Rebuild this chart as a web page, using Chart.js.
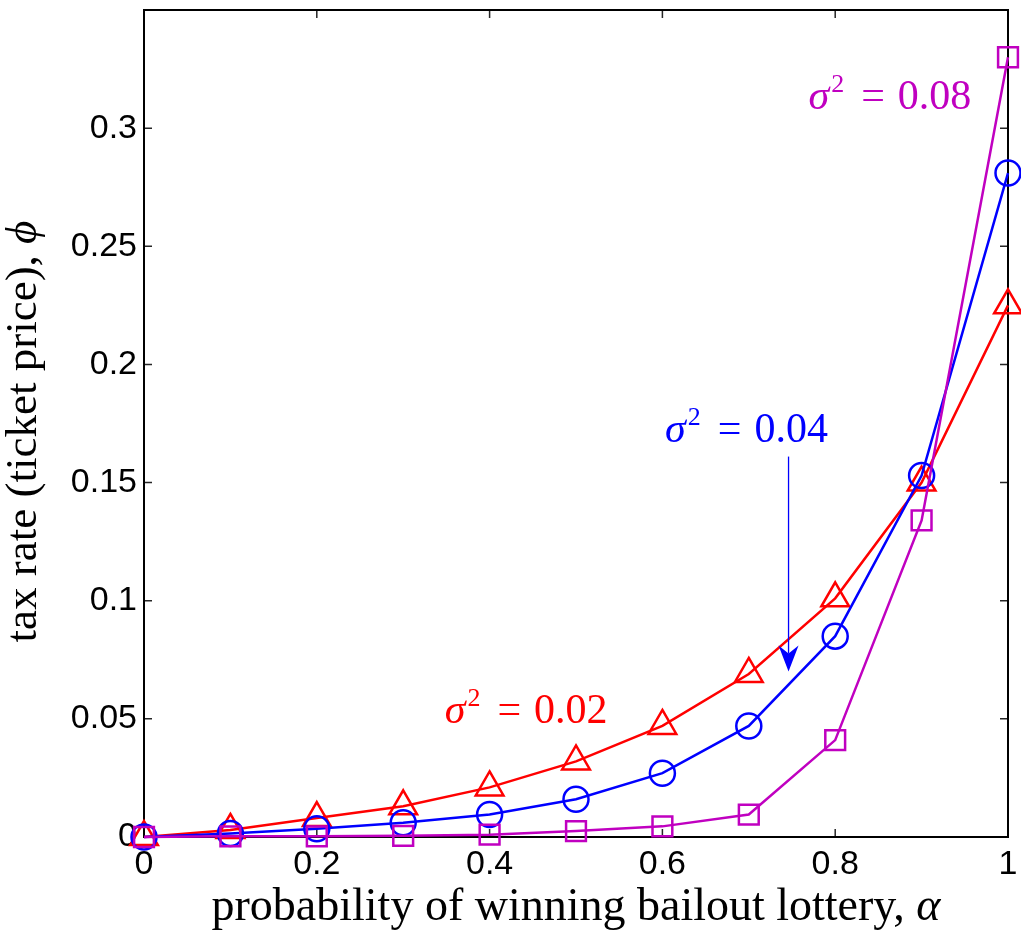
<!DOCTYPE html>
<html lang="en">
<head>
<meta charset="UTF-8" />
<title>Tax rate vs probability of winning bailout lottery</title>
<style>
  html, body { margin: 0; padding: 0; background: #fff; }
</style>
<script src="https://cdn.jsdelivr.net/npm/chart.js"></script>
</head>
<body>
<canvas id="chart" width="1021" height="933"></canvas>
<script>
// probability of winning bailout lottery, alpha
const alpha = [0, 0.1, 0.2, 0.3, 0.4, 0.5, 0.6, 0.7, 0.8, 0.9, 1];
// tax rate (ticket price) phi, one series per sigma^2
const phiSigma002 = [0, 0.003, 0.008, 0.013, 0.021, 0.032, 0.047, 0.069, 0.101, 0.150, 0.225];
const phiSigma004 = [0, 0.0015, 0.0035, 0.006, 0.0095, 0.016, 0.027, 0.047, 0.085, 0.153, 0.281];
const phiSigma008 = [0, 0.0003, 0.0003, 0.0005, 0.001, 0.0025, 0.0045, 0.0095, 0.041, 0.134, 0.330];

const xTicks = [0, 0.2, 0.4, 0.6, 0.8, 1];
const yTicks = [0, 0.05, 0.1, 0.15, 0.2, 0.25, 0.3];

const xTitle = ['probability of winning bailout lottery, ', 'α'];
const yTitle = ['tax rate (ticket price), ', 'ϕ'];

const RED = '#ff0000', BLUE = '#0000ff', MAGENTA = '#c000c0';
const SERIF = '"Liberation Serif", "DejaVu Serif", serif';

function series(values) {
    return alpha.map((a, i) => ({ x: a, y: values[i] }));
}

function lineSet(values, color, style, radius) {
    return {
        data: series(values),
        borderColor: color,
        borderWidth: 2.5,
        pointStyle: style,
        pointRadius: radius,
        pointHoverRadius: radius,
        pointBorderColor: color,
        pointBackgroundColor: 'rgba(0,0,0,0)',
        pointBorderWidth: 2.5,
        fill: false,
        tension: 0,
        clip: false
    };
}

// curve annotations, anchored in data coordinates (left edge, baseline)
const curveLabels = [
    { value: '0.02', color: RED, at: [0.348, 0.0484] },
    { value: '0.04', color: BLUE, at: [0.603, 0.167] },
    { value: '0.08', color: MAGENTA, at: [0.769, 0.308] }
];
const pointer = { x: 0.746, from: 0.161, to: 0.070, color: BLUE };

const frame = {
    id: 'frame',
    beforeDatasetsDraw(chart) {
        const { ctx, chartArea: a, scales: { x, y } } = chart;
        ctx.save();
        ctx.strokeStyle = '#262626';
        ctx.lineWidth = 1.5;
        ctx.beginPath();
        xTicks.forEach(v => {
            const px = x.getPixelForValue(v);
            ctx.moveTo(px, a.bottom); ctx.lineTo(px, a.bottom - 8);
            ctx.moveTo(px, a.top); ctx.lineTo(px, a.top + 8);
        });
        yTicks.forEach(v => {
            const py = y.getPixelForValue(v);
            ctx.moveTo(a.left, py); ctx.lineTo(a.left + 8, py);
            ctx.moveTo(a.right, py); ctx.lineTo(a.right - 8, py);
        });
        ctx.stroke();
        ctx.strokeStyle = '#000';
        ctx.lineWidth = 2;
        ctx.strokeRect(a.left, a.top, a.right - a.left, a.bottom - a.top);
        ctx.restore();
    }
};

// roman text followed by an italic symbol, centred on (0, baseline 0)
function drawTitle(ctx, parts, size) {
    ctx.font = size + 'px ' + SERIF;
    const w1 = ctx.measureText(parts[0]).width;
    ctx.font = 'italic ' + size + 'px ' + SERIF;
    const w2 = ctx.measureText(parts[1]).width;
    const start = -(w1 + w2) / 2;
    ctx.font = size + 'px ' + SERIF;
    ctx.fillText(parts[0], start, 0);
    ctx.font = 'italic ' + size + 'px ' + SERIF;
    ctx.fillText(parts[1], start + w1, 0);
}

const titles = {
    id: 'titles',
    afterDraw(chart) {
        const { ctx, chartArea: a } = chart;
        ctx.save();
        ctx.fillStyle = '#000';
        ctx.textBaseline = 'alphabetic';
        ctx.textAlign = 'left';
        ctx.save();
        ctx.translate((a.left + a.right) / 2, 920);
        drawTitle(ctx, xTitle, 46);
        ctx.restore();
        ctx.save();
        ctx.translate(36, (a.top + a.bottom) / 2 + 8);
        ctx.rotate(-Math.PI / 2);
        drawTitle(ctx, yTitle, 45);
        ctx.restore();
        ctx.restore();
    }
};

const notes = {
    id: 'notes',
    afterDatasetsDraw(chart) {
        const { ctx, scales: { x, y } } = chart;
        ctx.save();
        ctx.textBaseline = 'alphabetic';
        ctx.textAlign = 'left';
        curveLabels.forEach(l => {
            let px = x.getPixelForValue(l.at[0]);
            const py = y.getPixelForValue(l.at[1]);
            ctx.fillStyle = l.color;
            ctx.font = 'italic 42px ' + SERIF;
            ctx.fillText('σ', px, py);
            px += ctx.measureText('σ').width + 2;
            ctx.font = '26px ' + SERIF;
            ctx.fillText('2', px, py - 17);
            px += ctx.measureText('2').width + 17;
            ctx.font = '42px ' + SERIF;
            ctx.fillText('=', px, py);
            px += ctx.measureText('=').width + 13;
            ctx.fillText(l.value, px, py);
        });

        const ax = x.getPixelForValue(pointer.x);
        const y0 = y.getPixelForValue(pointer.from);
        const y1 = y.getPixelForValue(pointer.to);
        ctx.strokeStyle = pointer.color;
        ctx.fillStyle = pointer.color;
        ctx.lineWidth = 1.3;
        ctx.beginPath();
        ctx.moveTo(ax, y0);
        ctx.lineTo(ax, y1 - 18);
        ctx.stroke();
        ctx.beginPath();
        ctx.moveTo(ax, y1);
        ctx.lineTo(ax - 10, y1 - 26);
        ctx.lineTo(ax, y1 - 18);
        ctx.lineTo(ax + 10, y1 - 26);
        ctx.closePath();
        ctx.fill();
        ctx.restore();
    }
};

const tickFont = { family: '"Liberation Sans", Arial, sans-serif', size: 34, lineHeight: 0.5 };

new Chart(document.getElementById('chart'), {
    type: 'line',
    data: {
        datasets: [
            lineSet(phiSigma008, MAGENTA, 'rect', 14),
            lineSet(phiSigma004, BLUE, 'circle', 12.5),
            lineSet(phiSigma002, RED, 'triangle', 16)
        ]
    },
    options: {
        responsive: false,
        animation: false,
        layout: { autoPadding: false, padding: { top: 10, right: 13, left: 0, bottom: 0 } },
        plugins: {
            legend: { display: false },
            tooltip: { enabled: false }
        },
        scales: {
            x: {
                type: 'linear',
                min: 0,
                max: 1,
                afterBuildTicks: s => { s.ticks = xTicks.map(v => ({ value: v })); },
                afterFit: s => { s.height = 96; s.paddingLeft = 0; s.paddingRight = 0; },
                grid: { display: false, drawTicks: false },
                border: { display: false },
                ticks: { color: '#000', font: tickFont, padding: 19, maxRotation: 0, autoSkip: false, callback: v => String(v) }
            },
            y: {
                type: 'linear',
                min: 0,
                max: 0.35,
                afterBuildTicks: s => { s.ticks = yTicks.map(v => ({ value: v })); },
                afterFit: s => { s.width = 144; s.paddingTop = 0; s.paddingBottom = 0; },
                grid: { display: false, drawTicks: false },
                border: { display: false },
                ticks: { color: '#000', font: tickFont, padding: 7, callback: v => String(v) }
            }
        }
    },
    plugins: [frame, notes, titles]
});
</script>
</body>
</html>
